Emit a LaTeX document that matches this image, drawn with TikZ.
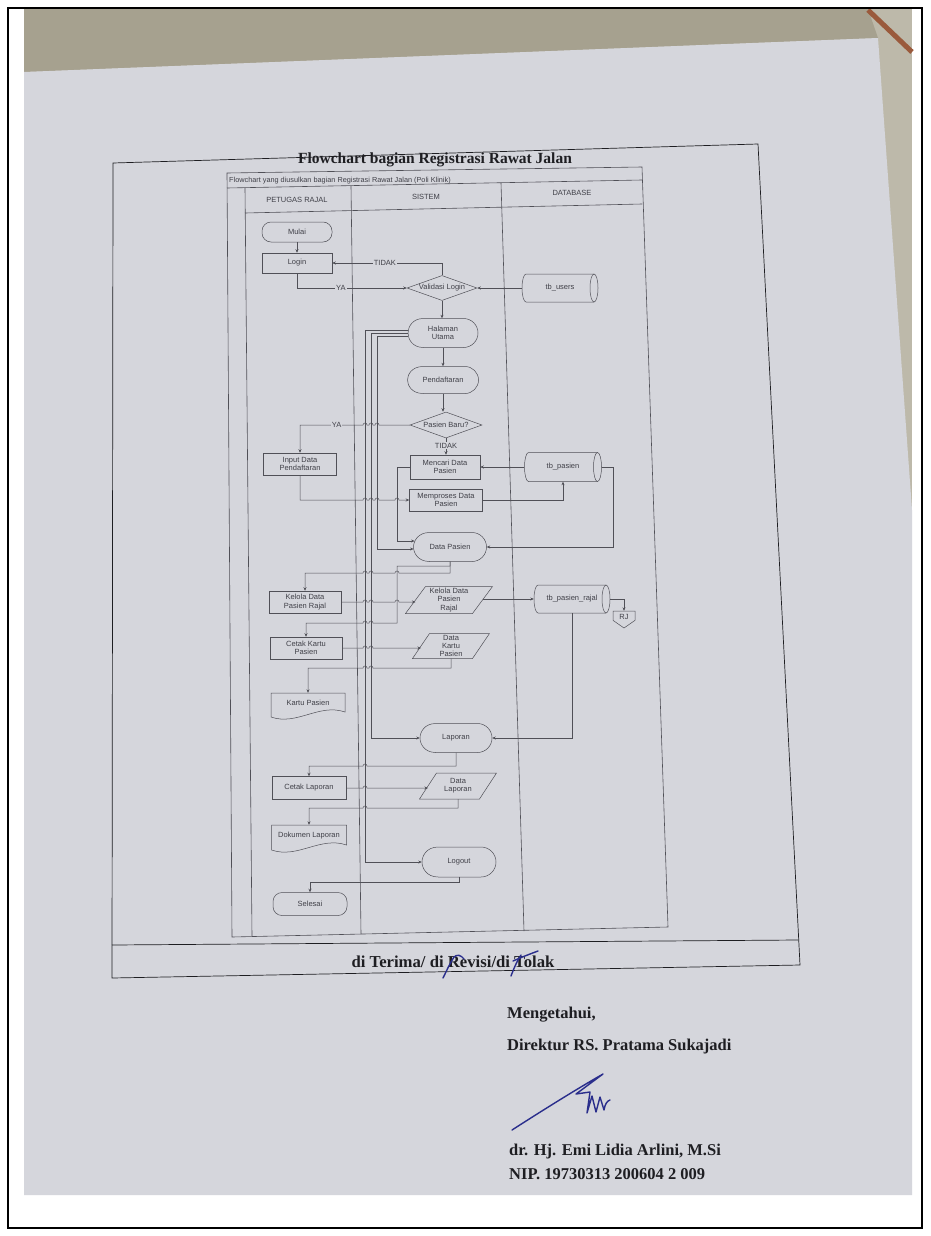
\documentclass[tikz,border=0pt]{standalone}
\usepackage{fontspec}
\setmainfont{Liberation Sans}
\newfontfamily\docserif{Liberation Serif}
\usetikzlibrary{arrows.meta,calc,shapes.geometric}

\definecolor{wallc}{HTML}{A6A18F}
\definecolor{wallb}{HTML}{BDB9AA}
\definecolor{paperc}{HTML}{D5D6DC}
\definecolor{lncol}{HTML}{505057}
\definecolor{txcol}{HTML}{404048}
\definecolor{inkc}{HTML}{1E1E22}
\definecolor{penc}{HTML}{2A2E8C}
\definecolor{woodc}{HTML}{9A5A3C}

\tikzset{
 ln/.style={draw=lncol, line width=0.5pt},
 arr/.style={ln, -{Stealth[length=3.5pt,width=3pt]}},
 lbl/.style={font=\fontsize{7.5}{8.3}\selectfont, text=txcol, align=center, inner sep=0pt},
 procbox/.style={lbl, draw=lncol, line width=0.5pt, rectangle},
 termbox/.style={procbox, rounded corners=9pt},
 decbox/.style={lbl, draw=lncol, line width=0.5pt, diamond, aspect=2.8},
 tag/.style={lbl, fill=paperc, inner sep=1pt},
 docline/.style={draw=inkc, line width=0.7pt},
 frameln/.style={draw=lncol, line width=0.6pt},
 hdr/.style={font=\fontsize{7.5}{9}\selectfont, text=txcol, inner sep=0pt},
 subhdr/.style={font=\fontsize{7.3}{9}\selectfont, text=txcol, inner sep=0pt, anchor=west},
 titletext/.style={font=\docserif\bfseries\fontsize{15.5}{18}\selectfont, text=inkc, inner sep=0pt},
 statustext/.style={font=\docserif\bfseries\fontsize{16.7}{19}\selectfont, text=inkc, inner sep=0pt},
 signtext/.style={font=\docserif\bfseries\fontsize{16.5}{18}\selectfont, text=inkc, inner sep=0pt, anchor=west},
 penstroke/.style={draw=penc, line width=1.4pt, line cap=round, line join=round},
}

% display shape: name, cx, cy, w, h, text
\newcommand\dispnode[6]{%
  \node[lbl, minimum width=#4, minimum height=#5] (#1) at (#2,#3) {#6};
  \draw[ln] ({#2-#4/2+0.22*#4},{#3-#5/2}) -- ({#2+#4/2-#5/2},{#3-#5/2})
    .. controls ({#2+#4/2-#5/2+0.276*#5},{#3-#5/2}) and ({#2+#4/2},{#3-0.276*#5}) .. ({#2+#4/2},{#3})
    .. controls ({#2+#4/2},{#3+0.276*#5}) and ({#2+#4/2-#5/2+0.276*#5},{#3+#5/2}) .. ({#2+#4/2-#5/2},{#3+#5/2})
    -- ({#2-#4/2+0.22*#4},{#3+#5/2})
    .. controls ({#2-#4/2+0.06*#4},{#3+#5/2}) and ({#2-#4/2},{#3+0.2*#5}) .. ({#2-#4/2},{#3})
    .. controls ({#2-#4/2},{#3-0.2*#5}) and ({#2-#4/2+0.06*#4},{#3-#5/2}) .. cycle;
}
% horizontal cylinder: name, cx, cy, w, h, text
\newcommand\cylnode[6]{%
  \node[lbl, minimum width=#4, minimum height=#5] (#1) at (#2,#3) {#6};
  \draw[ln] ({#2+#4/2-4},{#3-#5/2}) -- ({#2-#4/2+4},{#3-#5/2})
     arc[start angle=90, end angle=270, x radius=4pt, y radius={#5*0.5pt}]
     -- ({#2+#4/2-4},{#3+#5/2});
  \draw[ln] ({#2+#4/2-4},{#3}) ellipse[x radius=4pt, y radius={#5*0.5pt}];
}
% parallelogram: name, cx, cy, w, h, skew, text
\newcommand\ionode[7]{%
  \node[lbl, minimum width=#4, minimum height=#5] (#1) at (#2,#3) {#7};
  \draw[ln] ({#2-#4/2},{#3+#5/2}) -- ({#2-#4/2+#6},{#3-#5/2}) -- ({#2+#4/2},{#3-#5/2}) -- ({#2+#4/2-#6},{#3+#5/2}) -- cycle;
  \coordinate (#1-w) at ({#2-#4/2+#6/2},#3);
  \coordinate (#1-e) at ({#2+#4/2-#6/2},#3);
}
% document: name, cx, top, w, h, text
\newcommand\docnode[6]{%
  \node[lbl, minimum width=#4, minimum height={#5-4}] (#1) at (#2,{#3+(#5-4)/2}) {#6};
  \draw[ln] ({#2-#4/2},#3) -- ({#2+#4/2},#3) -- ({#2+#4/2},{#3+#5-5})
    .. controls ({#2-#4/2+0.65*#4},{#3+#5-14}) and ({#2-#4/2+0.35*#4},{#3+#5+9}) .. ({#2-#4/2},{#3+#5}) -- cycle;
}
% off-page connector: name, cx, top, w, h, text
\newcommand\offnode[6]{%
  \node[lbl, minimum width=#4, minimum height={0.7*#5}] (#1) at (#2,{#3+0.35*#5}) {#6};
  \draw[ln] ({#2-#4/2},#3) -- ({#2+#4/2},#3) -- ({#2+#4/2},{#3+0.55*#5}) -- (#2,{#3+#5}) -- ({#2-#4/2},{#3+0.55*#5}) -- cycle;
}

\begin{document}
\begin{tikzpicture}[x=1pt,y=-1pt]
\useasboundingbox (0,0) rectangle (930,1236);
% photo background
\fill[white] (0,0) rectangle (930,1236);
\fill[wallb] (24,9) rectangle (912,1195);
\fill[wallc] (24,9) -- (868,9) -- (878,38) -- (24,72) -- cycle;
\draw[woodc, line width=5pt] (868,10) -- (912,52);
\fill[paperc] (24,72) -- (878,38) -- (912,510) -- (912,1195) -- (24,1195) -- cycle;
\draw[black, line width=1.5pt] (8,8) rectangle (922,1228);

% document table
\draw[docline] (113,163) -- (758,144) -- (800,965) -- (112,978) -- cycle;
\draw[docline] (112,945) -- (798,940);
\node[titletext] (title) at (435,160) {Flowchart bagian Registrasi Rawat Jalan};
\node[statustext] (status) at (453,962) {di Terima/ di Revisi/di Tolak};

% flowchart frame and lanes
\draw[frameln] (227,173) -- (642,167) -- (668,927) -- (232,937) -- cycle;
\draw[frameln] (227,188) -- (642,180);
\draw[frameln] (245,213) -- (642,204);
\draw[frameln] (245,188) -- (252,936);
\draw[frameln] (351,186) -- (361,934);
\draw[frameln] (501,183) -- (524,931);
\node[subhdr] (sub) at (229,180.5) {Flowchart yang diusulkan bagian Registrasi Rawat Jalan (Poli Klinik)};
\node[hdr] (h1) at (297,200) {PETUGAS RAJAL};
\node[hdr] (h2) at (426,197) {SISTEM};
\node[hdr] (h3) at (572,193) {DATABASE};

% nodes
\node[termbox, minimum width=70, minimum height=20] (mulai) at (297,232) {Mulai};
\node[procbox, minimum width=70, minimum height=20] (login) at (297,263) {Login};
\node[decbox, minimum width=70, minimum height=25] (valid) at (442,288) {Validasi Login};
\cylnode{tbusers}{560}{288}{76}{28}{tb\_users}
\dispnode{hu}{443}{333}{70}{29}{Halaman\\Utama}
\dispnode{pend}{443}{380}{71}{27}{Pendaftaran}
\node[decbox, minimum width=72, minimum height=26] (pb) at (446,425) {Pasien Baru?};
\node[procbox, minimum width=73, minimum height=22] (input) at (300,464) {Input Data\\Pendaftaran};
\node[procbox, minimum width=70, minimum height=24] (mencari) at (445,467) {Mencari Data\\Pasien};
\cylnode{tbpasien}{563}{467}{77}{29}{tb\_pasien}
\node[procbox, minimum width=73, minimum height=22] (proses) at (446,500) {Memproses Data\\Pasien};
\dispnode{dp}{450}{547}{73}{29}{Data Pasien}
\node[procbox, minimum width=72, minimum height=22] (kelola) at (305,602) {Kelola Data\\Pasien Rajal};
\ionode{kpara}{449}{600}{87}{27}{20}{Kelola Data\\Pasien\\Rajal}
\cylnode{tbpr}{572}{599}{76}{28}{tb\_pasien\_rajal}
\offnode{rj}{624}{611}{22}{17}{RJ}
\node[procbox, minimum width=72, minimum height=22] (ck) at (306,648) {Cetak Kartu\\Pasien};
\ionode{dk}{451}{646}{77}{25}{17}{Data\\Kartu\\Pasien}
\docnode{kp}{308}{693}{74}{24}{Kartu Pasien}
\dispnode{lap}{456}{738}{72}{29}{Laporan}
\node[procbox, minimum width=74, minimum height=23] (cl) at (309,788) {Cetak Laporan};
\ionode{dl}{458}{786}{77}{26}{17}{Data\\Laporan}
\docnode{dok}{309}{825}{75}{25}{Dokumen Laporan}
\dispnode{lo}{459}{862}{74}{30}{Logout}
\node[termbox, minimum width=74, minimum height=23] (sel) at (310,904) {Selesai};

% connectors
\draw[arr] (mulai) -- (login);
\draw[arr] (valid.north) |- node[tag, pos=0.76] {TIDAK} (login.east);
\draw[arr] (login.south) |- node[tag, pos=0.7] {YA} (valid.west);
\draw[arr] (tbusers.west) -- (valid.east);
\draw[arr] (valid.south) -- (valid.south |- hu.north);
\draw[arr] (hu.south) -- (hu.south |- pend.north);
\draw[arr] (pend.south) -- (pend.south |- pb.north);
\draw[arr] (pb.south) -- node[tag, pos=0.45] {TIDAK} (pb.south |- mencari.north);
\draw[arr] (pb.west) -- (379,425) arc[start angle=0,end angle=180,radius=2pt]
   -- (373,425) arc[start angle=0,end angle=180,radius=2pt]
   -- (367,425) arc[start angle=0,end angle=180,radius=2pt]
   -- node[tag, pos=0.42] {YA} (input.north |- pb.west) -- (input.north);

% bus lines from Halaman Utama
\draw[arr] ($(hu.west)+(0.4,-3)$) -- (365,330) |- (lo.west);
\draw[arr] (hu.west) -- (371,333) |- (lap.west);
\draw[arr] ($(hu.west)+(0.4,3)$) -- (377,336) |- ($(dp.west)+(0.3,2)$);

\draw[arr] (input.south) |- (363,500) arc[start angle=180,end angle=0,radius=2pt]
   -- (369,500) arc[start angle=180,end angle=0,radius=2pt]
   -- (375,500) arc[start angle=180,end angle=0,radius=2pt]
   -- (395,500) arc[start angle=180,end angle=0,radius=2pt] -- (proses.west);
\draw[arr] (proses.east) -| (tbpasien.south);
\draw[arr] (tbpasien.west) -- (mencari.east);
\draw[arr] (tbpasien.east) -- (613,467) |- (dp.east);
\draw[arr] (mencari.west) -- (397,467) |- ($(dp.west)+(1.3,-6)$);

\draw[arr] (dp.south) -- (450,573) -- (399,573) arc[start angle=0,end angle=180,radius=2pt]
   -- (373,573) arc[start angle=0,end angle=180,radius=2pt]
   -- (367,573) arc[start angle=0,end angle=180,radius=2pt] -| (kelola.north);
\draw[arr] (dp.south) -- (450,566) -- (397,566) -- (397,623) -- (373,623) arc[start angle=0,end angle=180,radius=2pt]
   -- (367,623) arc[start angle=0,end angle=180,radius=2pt] -| (ck.north);

\draw[arr] (kelola.east) -- (363,602) arc[start angle=180,end angle=0,radius=2pt]
   -- (369,602) arc[start angle=180,end angle=0,radius=2pt]
   -- (395,602) arc[start angle=180,end angle=0,radius=2pt] -- (kpara-w |- kelola.east);
\draw[arr] (kpara-e |- tbpr.west) -- (tbpr.west);
\draw[arr] (tbpr.east) -| (rj.north);
\draw[arr] (tbpr.south) |- (lap.east);

\draw[arr] (ck.east) -- (363,648) arc[start angle=180,end angle=0,radius=2pt]
   -- (369,648) arc[start angle=180,end angle=0,radius=2pt] -- (dk-w |- ck.east);
\draw[arr] (dk.south) -- (451,668) -- (373,668) arc[start angle=0,end angle=180,radius=2pt]
   -- (367,668) arc[start angle=0,end angle=180,radius=2pt] -| (kp.north);

\draw[arr] (lap.south) -- (456,766) -- (367,766) arc[start angle=0,end angle=180,radius=2pt] -| (cl.north);
\draw[arr] (cl.east) -- (363,788) arc[start angle=180,end angle=0,radius=2pt] -- (dl-w |- cl.east);
\draw[arr] (dl.south) -- (458,808) -- (367,808) arc[start angle=0,end angle=180,radius=2pt] -| (dok.north);
\draw[arr] (lo.south) -- (459,882) -| (sel.north);

% pen marks on status
\draw[penstroke] (443,978) .. controls (447,970) and (450,963) .. (454,957) .. controls (457,954) and (461,955) .. (464,959);
\draw[penstroke] (511,976) .. controls (514,968) and (517,961) .. (521,955);
\draw[penstroke] (513,961) .. controls (522,957) and (530,954) .. (538,951);

% signature block
\node[signtext] (mengetahui) at (507,1015) {Mengetahui,};
\node[signtext] (direktur) at (507,1047) {Direktur RS. Pratama Sukajadi};
\node[signtext] (nama) at (509,1152) {dr. Hj. Emi Lidia Arlini, M.Si};
\node[signtext] (nip) at (509,1174) {NIP. 19730313 200604 2 009};
\draw[penstroke] (512,1130) .. controls (540,1112) and (575,1090) .. (603,1074)
   -- (576,1094) -- (590,1092) -- (587,1113) -- (592,1096) -- (596,1112) -- (600,1097) -- (604,1110)
   .. controls (605,1104) and (607,1101) .. (610,1100);
\end{tikzpicture}
\end{document}
